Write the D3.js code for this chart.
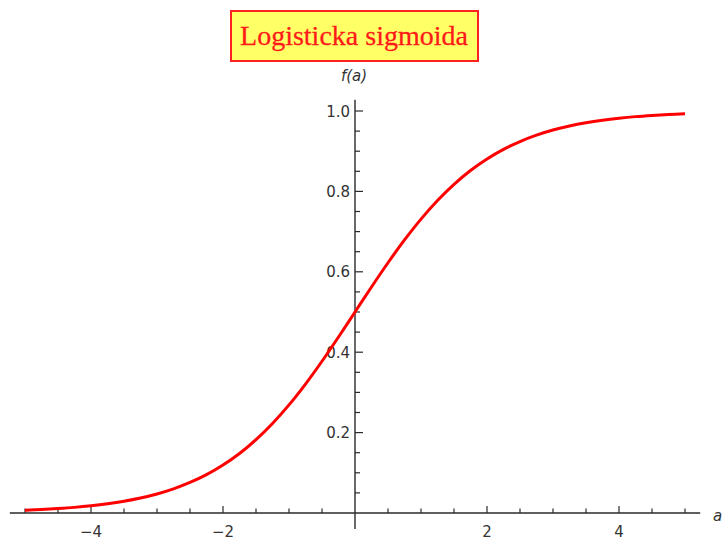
<!DOCTYPE html>
<html>
<head>
<meta charset="utf-8">
<script src="https://cdn.jsdelivr.net/npm/d3@7"></script>
<style>
  html, body { margin: 0; padding: 0; background: #fff; }
  svg { display: block; }
</style>
</head>
<body>
<svg id="chart" width="722" height="541"></svg>
<script>
// Logistic sigmoid f(a), sampled every 0.25 on [-5, 5]
const aValues = [
  -5, -4.75, -4.5, -4.25, -4, -3.75, -3.5, -3.25, -3, -2.75, -2.5, -2.25, -2, -1.75, -1.5, -1.25, -1, -0.75, -0.5, -0.25,
  0, 0.25, 0.5, 0.75, 1, 1.25, 1.5, 1.75, 2, 2.25, 2.5, 2.75, 3, 3.25, 3.5, 3.75, 4, 4.25, 4.5, 4.75, 5
];
const fValues = [
  0.0067, 0.0086, 0.0110, 0.0140, 0.0180, 0.0230, 0.0293, 0.0373, 0.0474, 0.0601, 0.0759, 0.0953, 0.1192, 0.1480, 0.1824, 0.2227, 0.2689, 0.3208, 0.3775, 0.4378,
  0.5000, 0.5622, 0.6225, 0.6792, 0.7311, 0.7773, 0.8176, 0.8520, 0.8808, 0.9047, 0.9241, 0.9399, 0.9526, 0.9627, 0.9707, 0.9770, 0.9820, 0.9860, 0.9890, 0.9914, 0.9933
];
const xMajorTicks = [-4, -2, 2, 4];
const xTickLabels = ["\u22124", "\u22122", "2", "4"];
const yMajorTicks = [0.2, 0.4, 0.6, 0.8, 1.0];
const yTickLabels = ["0.2", "0.4", "0.6", "0.8", "1.0"];
const titleText = "Logisticka sigmoida";

const svg = d3.select("#chart");
const x = d3.scaleLinear().domain([-5, 5]).range([25, 685]);
const y = d3.scaleLinear().domain([0, 1]).range([513, 111]);
const axisColor = "#2a2a2a";
const labelFont = "'DejaVu Sans', sans-serif";
const labelSize = 15;

// Horizontal axis line
svg.append("line")
  .attr("x1", x(-5.23)).attr("x2", x(5.23))
  .attr("y1", y(0)).attr("y2", y(0))
  .attr("stroke", axisColor).attr("stroke-width", 1.4);

// Vertical axis line through a = 0
svg.append("line")
  .attr("x1", x(0)).attr("x2", x(0))
  .attr("y1", y(-0.04)).attr("y2", y(1.028))
  .attr("stroke", axisColor).attr("stroke-width", 1.4);

// x ticks: major every 2, minor every 0.5
const xMinor = d3.range(-5, 5.001, 0.5).filter(v => Math.abs(v) > 1e-9 && !xMajorTicks.includes(v));
svg.append("g").selectAll("line.minor").data(xMinor).join("line")
  .attr("x1", d => x(d)).attr("x2", d => x(d))
  .attr("y1", y(0)).attr("y2", y(0) - 4.5)
  .attr("stroke", axisColor).attr("stroke-width", 1.2);
svg.append("g").selectAll("line.major").data(xMajorTicks).join("line")
  .attr("x1", d => x(d)).attr("x2", d => x(d))
  .attr("y1", y(0)).attr("y2", y(0) - 7)
  .attr("stroke", axisColor).attr("stroke-width", 1.2);
svg.append("g").selectAll("text").data(xMajorTicks).join("text")
  .attr("x", d => x(d)).attr("y", y(0) + 23.5)
  .attr("text-anchor", "middle")
  .attr("font-family", labelFont).attr("font-size", labelSize)
  .attr("fill", "#333")
  .text((d, i) => xTickLabels[i]);

// y ticks: major every 0.2, minor every 0.05
const yMinor = d3.range(0.05, 1.001, 0.05).filter(v => !yMajorTicks.some(m => Math.abs(m - v) < 1e-6));
svg.append("g").selectAll("line.minor").data(yMinor).join("line")
  .attr("x1", x(0)).attr("x2", x(0) + 5)
  .attr("y1", d => y(d)).attr("y2", d => y(d))
  .attr("stroke", axisColor).attr("stroke-width", 1.2);
svg.append("g").selectAll("line.major").data(yMajorTicks).join("line")
  .attr("x1", x(0)).attr("x2", x(0) + 8)
  .attr("y1", d => y(d)).attr("y2", d => y(d))
  .attr("stroke", axisColor).attr("stroke-width", 1.2);
svg.append("g").selectAll("text").data(yMajorTicks).join("text")
  .attr("x", x(0) - 5).attr("y", d => y(d) + 5.5)
  .attr("text-anchor", "end")
  .attr("font-family", labelFont).attr("font-size", labelSize)
  .attr("fill", "#333")
  .text((d, i) => yTickLabels[i]);

// Sigmoid curve
const pts = aValues.map((a, i) => [a, fValues[i]]);
const line = d3.line().x(d => x(d[0])).y(d => y(d[1])).curve(d3.curveCatmullRom);
svg.append("path")
  .datum(pts)
  .attr("d", line)
  .attr("fill", "none")
  .attr("stroke", "#ff0000")
  .attr("stroke-width", 3)
  .attr("stroke-linecap", "butt");

// Axis names
svg.append("text")
  .attr("x", x(0) - 1).attr("y", 81)
  .attr("text-anchor", "middle")
  .attr("font-family", labelFont).attr("font-style", "italic")
  .attr("font-size", 15).attr("fill", "#333")
  .text("f(a)");
svg.append("text")
  .attr("x", 713).attr("y", y(0) + 8)
  .attr("font-family", labelFont).attr("font-style", "italic")
  .attr("font-size", 15).attr("fill", "#333")
  .text("a");

// Title box
const title = svg.append("g");
title.append("rect")
  .attr("x", 231).attr("y", 11)
  .attr("width", 247).attr("height", 50)
  .attr("fill", "#ffff66")
  .attr("stroke", "#ff2020").attr("stroke-width", 2);
title.append("text")
  .attr("x", 354).attr("y", 45)
  .attr("text-anchor", "middle")
  .attr("font-family", "'Liberation Serif', 'Times New Roman', serif")
  .attr("font-size", 28)
  .attr("fill", "#ff1a1a")
  .attr("stroke", "#ff1a1a").attr("stroke-width", 0.3)
  .text(titleText);
</script>
</body>
</html>
